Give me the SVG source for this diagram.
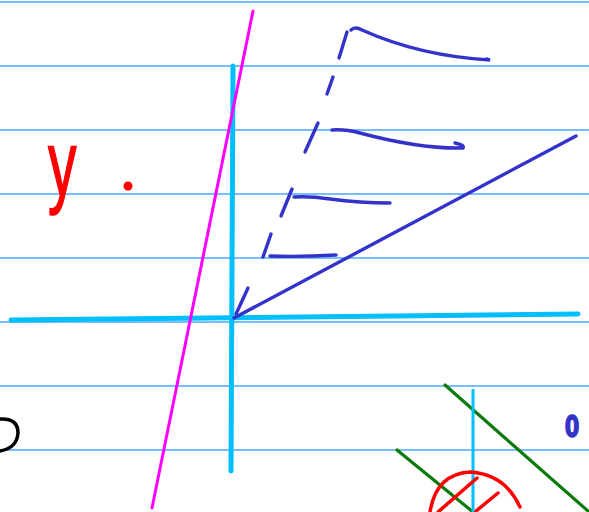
<svg xmlns="http://www.w3.org/2000/svg" width="589" height="512" viewBox="0 0 589 512">
<style>
.rule{stroke:#4da6ff;stroke-width:1.5;fill:none}
.axis{stroke:#00bfff;stroke-width:5;stroke-linecap:round;fill:none}
.blue{stroke:#3333cc;stroke-width:3.4;stroke-linecap:round;fill:none}
.green{stroke:#0a7a0a;stroke-width:3.2;stroke-linecap:round;fill:none}
.red{stroke:#ff0000;stroke-width:3.5;stroke-linecap:round;fill:none}
</style>
<rect width="589" height="512" fill="#ffffff"/>
<g id="rules">
<line class="rule" x1="0" y1="2" x2="589" y2="2"/>
<line class="rule" x1="0" y1="66" x2="589" y2="66"/>
<line class="rule" x1="0" y1="130" x2="589" y2="130"/>
<line class="rule" x1="0" y1="194" x2="589" y2="194"/>
<line class="rule" x1="0" y1="258" x2="589" y2="258"/>
<line class="rule" x1="0" y1="322" x2="589" y2="322"/>
<line class="rule" x1="0" y1="386" x2="589" y2="386"/>
<line class="rule" x1="0" y1="450" x2="589" y2="450"/>
</g>
<g id="connectors">
<line class="axis" x1="11" y1="320" x2="578" y2="314"/>
<line class="axis" x1="233" y1="66" x2="231" y2="471"/>
<line x1="253" y1="11" x2="152" y2="508" stroke="#ff00ff" stroke-width="3" stroke-linecap="round"/>
<line class="blue" x1="234" y1="318" x2="576" y2="136"/>
<line class="blue" x1="236" y1="314" x2="248" y2="288"/>
<line class="blue" x1="271" y1="234" x2="263" y2="257"/>
<line class="blue" x1="292" y1="189" x2="281" y2="216"/>
<line class="blue" x1="318" y1="123" x2="305" y2="152"/>
<line class="blue" x1="333" y1="77" x2="327" y2="94"/>
<line class="blue" x1="347" y1="32" x2="339" y2="58"/>
<path class="blue" d="M351 30 Q355 26 362 30 Q420 56 490 60 L487 59"/>
<path class="blue" d="M332 130 Q345 129 360 133 Q420 149 463 148 Q465 145 455 143"/>
<path class="blue" d="M294 197 Q310 196 330 199 Q360 203 390 203"/>
<path class="blue" d="M270 256 Q300 257 336 255"/>
<line class="green" x1="445" y1="385" x2="588" y2="511"/>
<line class="green" x1="397" y1="450" x2="473" y2="512"/>
<line x1="473" y1="389" x2="473" y2="512" stroke="#00bfff" stroke-width="3"/>
</g>
<g id="label-y">
<text x="48" y="196" font-family="Liberation Sans, sans-serif" font-size="92" fill="#ff0000" stroke="#ff0000" stroke-width="1.5" transform="translate(48 0) scale(0.62 1) translate(-48 0)">y</text>
<circle cx="128" cy="186" r="4.5" fill="#ff0000"/>
</g>
<g id="label-0">
<text x="572" y="437" text-anchor="middle" font-family="DejaVu Sans, sans-serif" font-weight="bold" font-size="30" fill="#3333cc" stroke="#3333cc" stroke-width="1.5" transform="translate(572 0) scale(0.7 1) translate(-572 0)">0</text>
</g>
<g id="black-mark">
<path d="M0 419 Q18 418 18 433 Q17 448 0 451" stroke="#000" stroke-width="3.5" fill="none" stroke-linecap="round"/>
</g>
<g id="red-circle">
<path class="red" d="M430 512 Q436 474 470 472 Q505 474 520 507"/>
<line class="red" x1="477" y1="478" x2="438" y2="512"/>
<line class="red" x1="498" y1="493" x2="476" y2="511"/>
</g>
</svg>
